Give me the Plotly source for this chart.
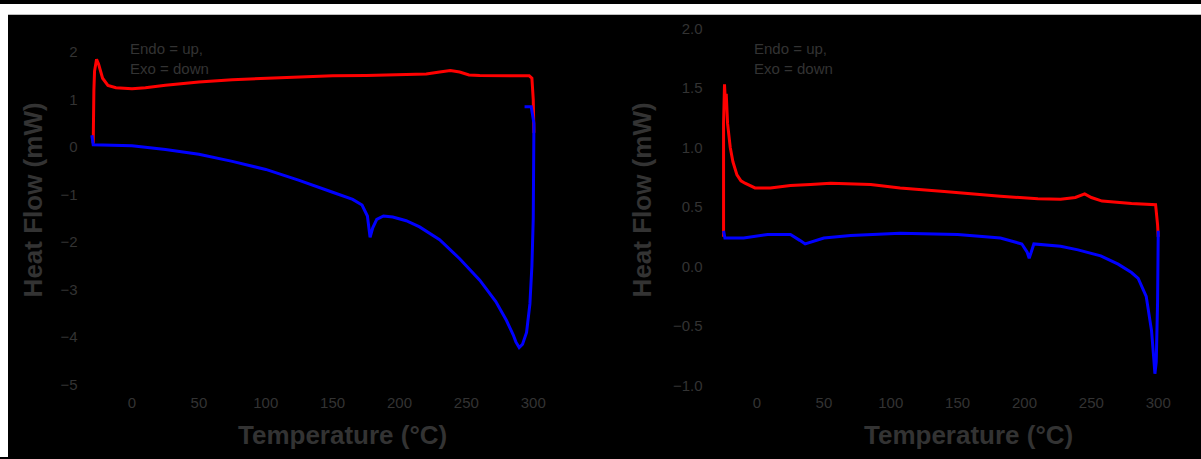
import plotly.graph_objects as go

# ---------------- data ----------------
# Left panel
left_red_T = [-29, -29, -28.5, -28, -26.5, -25, -22, -18, -12, 0, 10, 25, 50, 75, 100, 125, 150,
              175, 200, 220, 230, 238, 245, 252, 260, 280, 297, 299, 300, 300.5]
left_red_Q = [0.08, 0.5, 1.2, 1.6, 1.85, 1.75, 1.45, 1.3, 1.25, 1.23, 1.25, 1.3, 1.37, 1.42, 1.45,
              1.48, 1.5, 1.51, 1.52, 1.54, 1.58, 1.61, 1.58, 1.52, 1.51, 1.51, 1.5, 1.45, 1.0, 0.3]

left_blue_T = [293.5, 298.5, 300.5, 300.5, 300, 299, 297.5, 295, 292, 289.5, 287, 285, 280, 272,
               260, 245, 230, 215, 205, 195, 188, 183, 180, 178, 176, 172, 165, 150, 125, 100,
               75, 50, 25, 0, -20, -29, -30]
left_blue_Q = [0.85, 0.85, 0.5, -0.5, -1.5, -2.5, -3.3, -3.9, -4.15, -4.22, -4.1, -3.95, -3.65,
               -3.25, -2.8, -2.35, -1.95, -1.68, -1.55, -1.47, -1.45, -1.52, -1.7, -1.9, -1.45,
               -1.22, -1.1, -0.95, -0.7, -0.47, -0.3, -0.15, -0.05, 0.03, 0.05, 0.05, 0.25]

# Right panel
right_red_T = [-25, -25, -24.3, -23.5, -23, -22, -20, -18, -15, -12, -9, -1.5, 10, 25, 40, 55,
               85, 107, 140, 182, 210, 227, 238, 245, 250, 258, 280, 298, 299.5, 300]
right_red_Q = [0.25, 1.2, 1.53, 1.35, 1.45, 1.2, 1.0, 0.88, 0.77, 0.72, 0.7, 0.66, 0.66, 0.68,
               0.69, 0.7, 0.69, 0.66, 0.63, 0.59, 0.57, 0.565, 0.58, 0.61, 0.58, 0.55, 0.53,
               0.52, 0.35, 0.25]

right_blue_T = [300, 299.5, 298.5, 297.5, 296.5, 295, 291, 285, 280, 270, 257, 240, 227, 215,
                207, 205, 203.5, 202, 198, 182, 150, 107, 70, 50, 38, 36, 32, 25, 8, -10, -24, -25]
right_blue_Q = [0.3, -0.3, -0.8, -0.9, -0.75, -0.54, -0.25, -0.1, -0.05, 0.02, 0.09, 0.14, 0.17,
                0.18, 0.19, 0.12, 0.07, 0.12, 0.19, 0.24, 0.27, 0.28, 0.26, 0.24, 0.2, 0.19,
                0.22, 0.27, 0.27, 0.24, 0.24, 0.3]

x_ticks = [0, 50, 100, 150, 200, 250, 300]
left_y_ticks = [-5, -4, -3, -2, -1, 0, 1, 2]
right_y_ticks = [-1.0, -0.5, 0.0, 0.5, 1.0, 1.5, 2.0]

x_title = "Temperature (°C)"
y_title = "Heat Flow (mW)"
note = "Endo = up,<br>Exo = down"

# ---------------- figure ----------------
W, H = 1201, 459
TXT = "#333333"
FONT = "Liberation Sans, Arial, sans-serif"

fig = go.Figure()
fig.add_trace(go.Scatter(x=left_red_T, y=left_red_Q, mode="lines",
                         line=dict(color="#ff0000", width=3), xaxis="x", yaxis="y"))
fig.add_trace(go.Scatter(x=left_blue_T, y=left_blue_Q, mode="lines",
                         line=dict(color="#0000ff", width=3), xaxis="x", yaxis="y"))
fig.add_trace(go.Scatter(x=right_red_T, y=right_red_Q, mode="lines",
                         line=dict(color="#ff0000", width=3), xaxis="x2", yaxis="y2"))
fig.add_trace(go.Scatter(x=right_blue_T, y=right_blue_Q, mode="lines",
                         line=dict(color="#0000ff", width=3), xaxis="x2", yaxis="y2"))

ydom = [1 - 393 / H, 1 - 20 / H]
common_x = dict(range=[-40, 320], tickvals=x_ticks, showgrid=False, zeroline=False,
                showline=False, ticks="", tickfont=dict(size=15, color=TXT, family=FONT))
common_y = dict(showgrid=False, zeroline=False, showline=False, ticks="",
                tickfont=dict(size=15, color=TXT, family=FONT))

fig.update_layout(
    width=W, height=H,
    margin=dict(l=0, r=0, t=0, b=0),
    paper_bgcolor="#000000", plot_bgcolor="#000000",
    showlegend=False,
    xaxis=dict(domain=[78.5 / W, 560 / W], anchor="y", **common_x),
    yaxis=dict(domain=ydom, anchor="x", range=[-5.152, 2.597], tickvals=left_y_ticks, **common_y),
    xaxis2=dict(domain=[703.5 / W, 1185 / W], anchor="y2", **common_x),
    yaxis2=dict(domain=ydom, anchor="x2", range=[-1.052, 2.039], tickvals=right_y_ticks,
                tickformat=".1f", **common_y),
    shapes=[
        dict(type="rect", xref="paper", yref="paper", x0=0, x1=1, y0=1 - 11 / H, y1=1,
             fillcolor="#ffffff", line=dict(width=0), layer="above"),
        dict(type="rect", xref="paper", yref="paper", x0=0, x1=8 / W, y0=0, y1=1,
             fillcolor="#ffffff", line=dict(width=0), layer="above"),
    ],
)

ann = []
for xc in (342, 968):
    ann.append(dict(text=x_title, xref="paper", yref="paper", x=xc / W, y=1 - 437 / H,
                    xanchor="center", yanchor="middle", showarrow=False,
                    font=dict(size=26, color=TXT, family=FONT, weight="bold")))
for xc in (33, 642):
    ann.append(dict(text=y_title, xref="paper", yref="paper", x=xc / W, y=1 - 199 / H,
                    xanchor="center", yanchor="middle", textangle=-90, showarrow=False,
                    font=dict(size=26, color=TXT, family=FONT, weight="bold")))
for xl in (128, 752):
    ann.append(dict(text=note, xref="paper", yref="paper", x=xl / W, y=1 - 55 / H,
                    xanchor="left", yanchor="middle", align="left", showarrow=False,
                    font=dict(size=15, color=TXT, family=FONT)))
fig.update_layout(annotations=ann)

post = "document.body.style.background='#000000';"
fig.write_html("out.html", config={"displayModeBar": False}, post_script=post)
